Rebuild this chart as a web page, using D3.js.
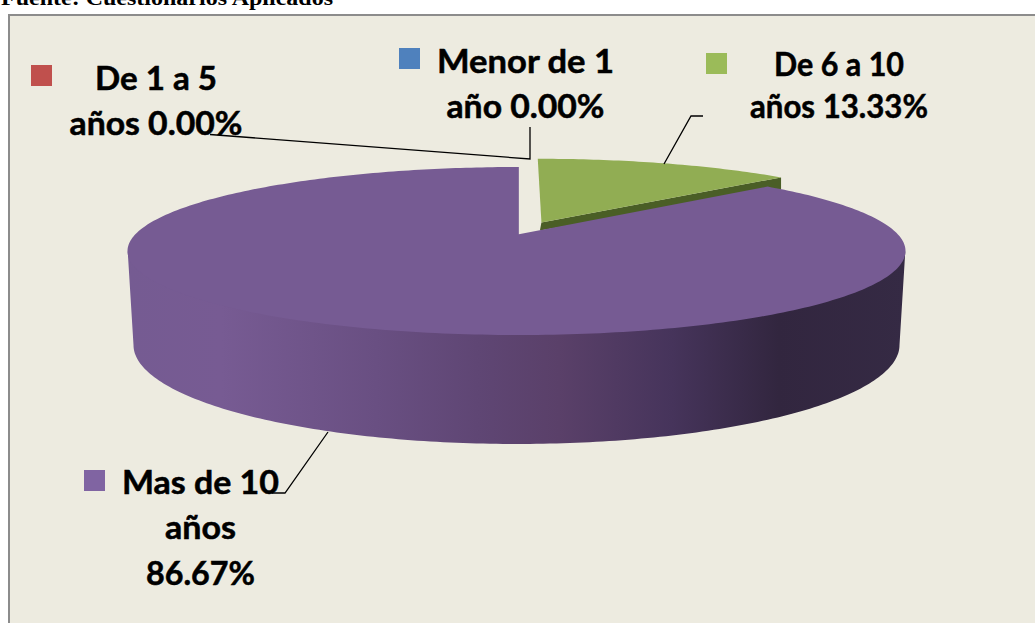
<!DOCTYPE html>
<html><head><meta charset="utf-8">
<script src="https://cdn.jsdelivr.net/npm/d3@7"></script>
<style>html,body{margin:0;padding:0;background:#fff;overflow:hidden}svg{display:block}</style>
</head><body><svg id="c" width="1035" height="623"></svg>
<script>
const categories = ["Menor de 1 año", "De 1 a 5 años", "De 6 a 10 años", "Mas de 10 años"];
const values = [0.00, 0.00, 13.33, 86.67];
const labelLines = [["Menor de 1", "año "], ["De 1 a 5", "años "], ["De 6 a 10", "años "], ["Mas de 10", "años", ""]];
const colors = ["#4f81bd", "#c0504d", "#9bbb59", "#8064a2"];
const caption = "Fuente: Cuestionarios Aplicados";

const layout = [
  {sw:[399,48], tx:525.5, ty:[73,118], w:[177,158], leader:[[530,127],[530,159],[210,134.5]]},
  {sw:[31,65],  tx:156, ty:[89.5,135], w:[122,173], leader:null},
  {sw:[706,53], tx:839, ty:[76,118], w:[130,178], leader:[[664,164],[691,116],[703,116]]},
  {sw:[84,470], tx:200.5, ty:[494,539,585], w:[157,71,109], leader:[[328,432],[285,493],[272,493]]}
];

const svg = d3.select("#c");
const defs = svg.append("defs");
const g = defs.append("linearGradient").attr("id","side").attr("gradientUnits","userSpaceOnUse")
  .attr("x1",128).attr("x2",905).attr("y1",0).attr("y2",0);
[[0,"#755b92"],[0.12,"#775b93"],[0.32,"#694f82"],[0.45,"#5f4674"],[0.555,"#5a4069"],[0.7,"#46345b"],[0.837,"#32263f"],[1,"#352a44"]]
  .forEach(([o,c])=>g.append("stop").attr("offset",o).attr("stop-color",c));

svg.append("text").attr("x",1).attr("y",4.5).text(caption)
  .attr("textLength",332).attr("lengthAdjust","spacingAndGlyphs")
  .attr("font-family","Liberation Serif").attr("font-weight",700).attr("font-size",21).attr("fill","#000");
svg.append("rect").attr("x",9).attr("y",15).attr("width",1040).attr("height",640)
  .attr("fill","#edebe0").attr("stroke","#8c8c8c").attr("stroke-width",2);

// perspective projection of the pie's unit disc on to the top ellipse
const top_ = {cx:516.5, cy:251, rx:389, ry:84};
const bot = {cx:516.5, cy:345, rx:383, ry:99};
const c0 = 0.2, s0 = 0.006;
function project(u, v){
  const d = 1 + c0*v;
  const up = u*Math.sqrt(1-c0*c0)/d;
  return [top_.cx + top_.rx*(up + s0*(1-up*up)), top_.cy - top_.ry*((v+c0)/d)];
}
const polar = (a, r, off=[0,0]) => [r*Math.sin(a)+off[0], r*Math.cos(a)+off[1]];
const line = d3.line();
const arcs = d3.pie().sort(null).value(d=>d)(values);
const explode = 0.165;

function sectorPts(arc, off){
  const n = Math.max(2, Math.ceil((arc.endAngle-arc.startAngle)*60));
  const pts = [project(off[0], off[1])];
  d3.range(n+1).forEach(i=>{
    const a = arc.startAngle + (arc.endAngle-arc.startAngle)*i/n;
    pts.push(project(...polar(a,1,off)));
  });
  return pts;
}

// side wall of the main slice (starts behind the top face so no seam shows)
const ell = (e,t,dy=0)=>[e.cx+e.rx*Math.cos(t), e.cy+dy+e.ry*Math.sin(t)];
const ts = d3.range(0,181).map(d=>d*Math.PI/180);
const sidePts = ts.map(t=>ell(top_,t,-3)).concat(ts.slice().reverse().map(t=>ell(bot,t)));
svg.append("path").attr("d",line(sidePts)+"Z").attr("fill","url(#side)");

// green slice: thin radial wall, then its top
const ga = arcs[2], mid = (ga.startAngle+ga.endAngle)/2;
const off = [explode*Math.sin(mid)-0.006, explode*Math.cos(mid)];
const p0 = project(off[0],off[1]), p1 = project(...polar(ga.endAngle,1,off));
svg.append("path").attr("d",line([p0,p1,[p1[0],p1[1]+12],[p0[0]-1.5,p0[1]+8]])+"Z").attr("fill","#4a5e26");
svg.append("path").attr("d",line(sectorPts(ga,off))+"Z").attr("fill","#91ad53");

// main slice top
svg.append("path").attr("d",line(sectorPts(arcs[3],[0,0]))+"Z").attr("fill","#765b93");

// leaders
layout.forEach(l=>{ if(l.leader) svg.append("path").attr("d",line(l.leader)).attr("fill","none").attr("stroke","#000").attr("stroke-width",1.3); });

// legend keys + labels
categories.forEach((c,i)=>{
  const l = layout[i];
  svg.append("rect").attr("x",l.sw[0]).attr("y",l.sw[1]).attr("width",21).attr("height",21).attr("fill",colors[i]);
  const pct = values[i].toFixed(2)+"%";
  labelLines[i].forEach((t,j)=>{
    svg.append("text").attr("x",l.tx).attr("y",l.ty[j]).attr("text-anchor","middle")
      .attr("textLength",l.w[j]).attr("lengthAdjust","spacingAndGlyphs")
      .attr("font-family","Lato").attr("font-weight",700).attr("font-size",32).attr("fill","#000")
      .attr("stroke","#000").attr("stroke-width",0.5)
      .text(j===labelLines[i].length-1 ? t+pct : t);
  });
});
</script></body></html>
